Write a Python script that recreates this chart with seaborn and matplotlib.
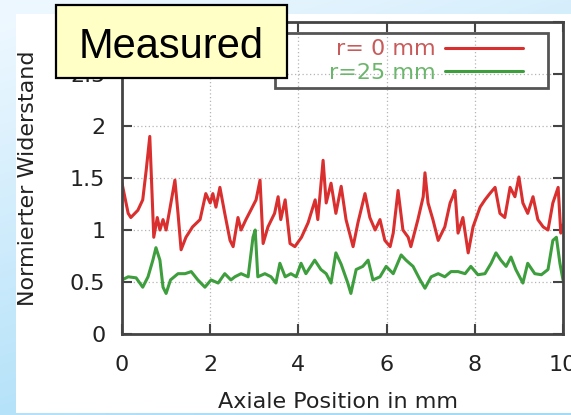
import matplotlib
matplotlib.use('Agg')
import matplotlib.pyplot as plt
import numpy as np
import pandas as pd
import seaborn as sns
from matplotlib.patches import Rectangle

# values
red_x = [0.0, 0.14, 0.2, 0.36, 0.47, 0.55, 0.63, 0.66, 0.72, 0.8, 0.86, 0.93, 1.0, 1.08, 1.2, 1.27, 1.34,
         1.45, 1.6, 1.77, 1.9, 2.0, 2.06, 2.13, 2.22, 2.33, 2.45, 2.52, 2.63, 2.7, 2.81, 2.92, 3.04, 3.13,
         3.2, 3.31, 3.46, 3.54, 3.6, 3.7, 3.81, 3.92, 4.07, 4.22, 4.38, 4.44, 4.56, 4.63, 4.74, 4.85, 4.97,
         5.08, 5.24, 5.35, 5.51, 5.62, 5.74, 5.85, 5.96, 6.08, 6.15, 6.26, 6.37, 6.49, 6.55, 6.71, 6.83,
         6.87, 6.94, 7.05, 7.17, 7.32, 7.44, 7.5, 7.55, 7.62, 7.73, 7.85, 7.96, 8.12, 8.23, 8.34, 8.46,
         8.57, 8.68, 8.8, 8.91, 9.0, 9.09, 9.2, 9.32, 9.43, 9.55, 9.66, 9.77, 9.89, 9.95, 10.0]
red_y = [1.45, 1.16, 1.12, 1.19, 1.29, 1.58, 1.9, 1.58, 0.93, 1.12, 1.0, 1.1, 1.0, 1.19, 1.48, 1.16, 0.81,
         0.93, 1.03, 1.1, 1.35, 1.26, 1.35, 1.22, 1.41, 1.16, 0.9, 0.84, 1.12, 1.0, 1.1, 1.19, 1.29, 1.48,
         0.87, 1.03, 1.16, 1.32, 1.1, 1.29, 0.87, 0.84, 0.93, 1.07, 1.29, 1.1, 1.67, 1.26, 1.45, 1.16, 1.42,
         1.1, 0.84, 1.07, 1.35, 1.12, 1.0, 1.1, 0.9, 0.84, 0.97, 1.38, 1.0, 0.93, 0.84, 1.1, 1.32,
         1.55, 1.26, 1.1, 0.9, 1.03, 1.26, 1.32, 1.38, 0.97, 1.12, 0.78, 1.03, 1.22, 1.29, 1.35, 1.41,
         1.16, 1.12, 1.41, 1.32, 1.51, 1.26, 1.16, 1.32, 1.1, 1.03, 1.0, 1.26, 1.41, 0.97, 1.05]

green_x = [0.0, 0.14, 0.32, 0.47, 0.59, 0.7, 0.77, 0.86, 0.93, 1.0, 1.1, 1.27, 1.43, 1.57, 1.72, 1.88, 2.02,
           2.18, 2.33, 2.47, 2.56, 2.7, 2.86, 2.97, 3.02, 3.08, 3.24, 3.38, 3.49, 3.58, 3.7, 3.83, 3.95,
           4.06, 4.17, 4.37, 4.51, 4.63, 4.74, 4.85, 4.97, 5.12, 5.19, 5.31, 5.46, 5.58, 5.69, 5.85, 5.99,
           6.15, 6.33, 6.44, 6.6, 6.76, 6.87, 7.01, 7.17, 7.32, 7.46, 7.62, 7.78, 7.91, 8.07, 8.23, 8.37,
           8.48, 8.59, 8.71, 8.82, 8.93, 9.09, 9.2, 9.36, 9.51, 9.66, 9.77, 9.85, 9.93, 10.0]
green_y = [0.52, 0.55, 0.54, 0.45, 0.55, 0.71, 0.83, 0.71, 0.45, 0.39, 0.52, 0.58, 0.58, 0.6, 0.52, 0.45, 0.52,
           0.49, 0.58, 0.52, 0.55, 0.58, 0.55, 0.93, 1.0, 0.55, 0.58, 0.55, 0.49, 0.68, 0.55, 0.58, 0.55,
           0.68, 0.58, 0.71, 0.62, 0.58, 0.49, 0.78, 0.67, 0.49, 0.39, 0.62, 0.65, 0.71, 0.52, 0.55, 0.65,
           0.58, 0.76, 0.71, 0.65, 0.52, 0.44, 0.55, 0.58, 0.55, 0.6, 0.6, 0.58, 0.65, 0.57, 0.58, 0.68,
           0.78, 0.71, 0.65, 0.74, 0.62, 0.49, 0.68, 0.58, 0.57, 0.62, 0.9, 0.93, 0.68, 0.52]

labels = ['r= 0 mm', 'r=25 mm']
line_colors = ['#d92f2f', '#3e9e3e']
label_colors = ['#c85a5a', '#6cb56c']
x_ticks = [0, 2, 4, 6, 8, 10]
y_ticks = [0, 0.5, 1, 1.5, 2, 2.5, 3]
y_tick_labels = ['0', '0.5', '1', '1.5', '2', '2.5', '']  # the 3 sits under the tag

sns.set_style('ticks')
plt.rcParams['font.family'] = ['DejaVu Sans']

fig = plt.figure(figsize=(5.71, 4.15), dpi=100)

# light blue slide background with a white panel on it
bg = fig.add_axes([0, 0, 1, 1], zorder=-10)
yy, xx = np.mgrid[0:1:200j, 0:1:200j]
t = np.clip(0.8 * (1 - yy) + 0.35 * xx - 0.05, 0, 1)
c0 = np.array([0.93, 0.97, 1.0])
c1 = np.array([0.64, 0.86, 0.97])
img = c0 + (c1 - c0) * t[..., None]
bg.imshow(img, extent=[0, 1, 0, 1], origin='lower', aspect='auto')
bg.add_patch(Rectangle((16 / 571, 2 / 415), 555 / 571, 399 / 415, facecolor='white', edgecolor='none'))
bg.set_xlim(0, 1)
bg.set_ylim(0, 1)
bg.axis('off')

ax = fig.add_axes([122 / 571, 81 / 415, 441 / 571, 312 / 415])
ax.set_facecolor('white')

df = pd.concat([
    pd.DataFrame({'x': red_x, 'y': red_y, 'series': labels[0]}),
    pd.DataFrame({'x': green_x, 'y': green_y, 'series': labels[1]}),
])
sns.lineplot(data=df, x='x', y='y', hue='series', palette=dict(zip(labels, line_colors)),
             estimator=None, sort=False, linewidth=2.2, ax=ax, legend=True)

ax.set_xlim(0, 10)
ax.set_ylim(0, 3)
ax.set_xticks(x_ticks)
ax.set_yticks(y_ticks)
ax.set_yticklabels(y_tick_labels)
ax.grid(True, linestyle=(0, (1, 2)), color='#b5b5b5', linewidth=0.9)
ax.tick_params(direction='in', length=7, width=1.5, top=True, right=True, color='#444444',
               labelcolor='#222222', labelsize=16)
ax.tick_params(axis='x', pad=15)
ax.tick_params(axis='y', pad=12)
for s in ax.spines.values():
    s.set_color('#444444')
    s.set_linewidth(2)

ax.set_xlabel('Axiale Position in mm', fontsize=16, color='#222222', va='top')
ax.set_ylabel('Normierter Widerstand', fontsize=16, color='#222222')
ax.xaxis.set_label_coords(0.49, -0.185)
ax.yaxis.set_label_coords(-0.19, 0.5)

# gnuplot style key: text first, then the line sample, in a separate frame
handles, _ = ax.get_legend_handles_labels()
leg = ax.legend(handles, labels, loc='center right', bbox_to_anchor=(0.935, 0.875), frameon=False,
                markerfirst=False, handlelength=3.5, handletextpad=0.45, labelspacing=0.15,
                borderpad=0, fontsize=16, labelcolor=label_colors)
ax.add_patch(Rectangle((0.347, 0.788), 0.619, 0.177, transform=ax.transAxes, fill=False,
                       edgecolor='#555555', linewidth=2, zorder=5, clip_on=False))

# "Measured" tag
fig.add_artist(Rectangle((56 / 571, 1 - 78 / 415), 231 / 571, 73 / 415, transform=fig.transFigure,
                         facecolor='#ffffc6', edgecolor='black', linewidth=1.6, zorder=20))
fig.text(171.5 / 571, 1 - 58 / 415, 'Measured', ha='center', va='baseline', fontsize=30,
         family='Liberation Sans', color='black', zorder=21)

fig.savefig('out.png', dpi=100)
